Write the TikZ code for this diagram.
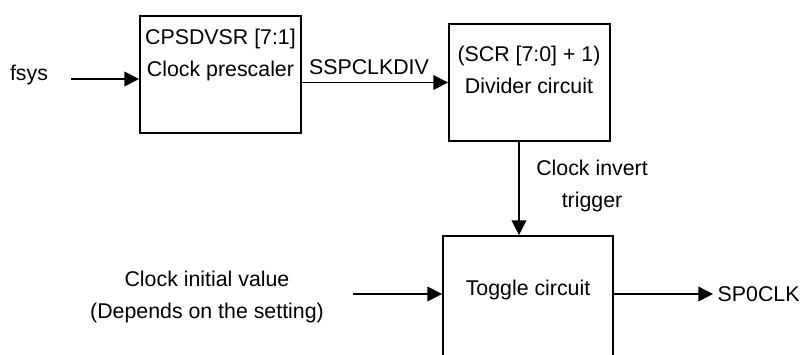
\documentclass[tikz,border=0pt]{standalone}
\usepackage{fontspec}
\setmainfont{Liberation Sans}
\usetikzlibrary{arrows.meta,positioning}

\begin{document}
\begin{tikzpicture}[
    x=0.75pt, y=-0.75pt,
    block/.style={rectangle, draw=black, line width=1.4pt,
                  minimum width=#1, minimum height=87.75pt, inner sep=0pt},
    block/.default=120.75pt,
    lbl/.style={font=\fontsize{16}{24}\selectfont, align=center, text=black},
    arrow/.style={-{Triangle[length=11pt,width=11pt]}, line width=1.1pt}
]
\clip (0,0) rectangle (805,354);
\node[block] (pre) at (220.5,74.5) {};
\node[lbl] (pretxt) at (220.5,54.5) {CPSDVSR [7:1]\\Clock prescaler};
\node[block] (div) at (529.5,82.5) {};
\node[lbl] (divtxt) at (529,70) {(SCR [7:0] + 1)\\Divider circuit};
\node[block=127.5pt, minimum height=127.5pt] (tog) at (528,321) {};
\node[lbl] (togtxt) at (528,290) {Toggle circuit};
\node[lbl] (fsys) at (29,75) {fsys};
\node[lbl] (init) at (207,297) {Clock initial value\\(Depends on the setting)};
\node[lbl] (inv) at (592,186) {Clock invert\\trigger};
\node[lbl, anchor=west] (sp) at (713,294) {SP0CLK};
\coordinate (fin) at (71,79);
\coordinate (cin) at (353,294);
\draw[arrow] (fin) -- (fin -| pre.west);
\draw[arrow] (pre.east |- div.west) -- node[lbl, above, xshift=-4.5pt, yshift=2pt] (clkdiv) {SSPCLKDIV} (div.west);
\draw[arrow] ([xshift=-7.9pt]div.south) -- ([xshift=-7.9pt]div.south |- tog.north);
\draw[arrow] (cin) -- (cin -| tog.west);
\draw[arrow] (sp.west -| tog.east) -- (sp.west);
\end{tikzpicture}
\end{document}
